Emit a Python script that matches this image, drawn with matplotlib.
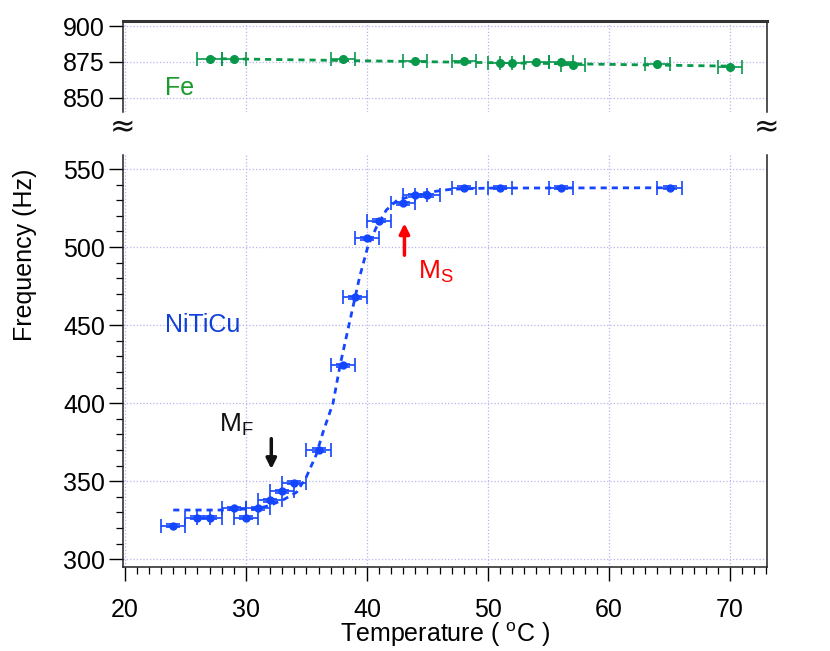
import matplotlib
matplotlib.use("Agg")
import matplotlib.pyplot as plt
from matplotlib.ticker import MultipleLocator, FixedLocator

plt.rcParams['font.family'] = ['Liberation Sans', 'DejaVu Sans']
plt.rcParams['mathtext.fontset'] = 'custom'
plt.rcParams['mathtext.rm'] = 'Liberation Sans'
plt.rcParams['mathtext.it'] = 'Liberation Sans:italic'
plt.rcParams['mathtext.bf'] = 'Liberation Sans:bold'

# NiTiCu data
niticu_T = [24, 26, 27, 29, 30, 31, 32, 33, 34, 36, 38, 39, 40, 41, 43, 44, 45, 48, 51, 56, 65]
niticu_f = [321.5, 326.5, 326.5, 332.5, 326.5, 332.5, 337.8, 343.6, 348.9, 370, 424.2, 467.8, 505.6, 516.9, 528, 533.3, 533.3, 538, 538, 538, 538]
niticu_xerr = 1.0
niticu_yerr = 1.0

# NiTiCu fit curve
fit_T = [24, 28, 31, 32, 33.2, 34.2, 35.0, 35.8, 36.4, 37.2, 37.8, 38.6, 39.4, 40.1, 40.8, 41.6, 42.5, 44.4, 46.9, 50, 65]
fit_f = [331.5, 331.5, 332.5, 334.5, 338.5, 343, 352.8, 366.7, 382, 400, 425, 453, 481, 501, 513, 523.7, 530, 534.4, 537, 537.8, 538]

# Fe data
fe_T = [27, 29, 38, 44, 48, 51, 52, 54, 56, 57, 64, 70]
fe_f = [877.1, 877.1, 877.1, 875.7, 875.9, 874.5, 874.5, 874.8, 874.8, 872.9, 873.4, 871.7]
fe_xerr = 1.0
fe_line_T = [27, 70]
fe_line_f = [877.3, 872.0]

blue = '#1446ff'
green = '#08984a'
grid_color = '#b4b4ee'

fig = plt.figure(figsize=(8.3, 6.51), dpi=100)
L, R = 123/830, 767/830
ax_top = fig.add_axes([L, 1 - 112/651, R - L, (112 - 21)/651])
ax = fig.add_axes([L, 1 - 567/651, R - L, (567 - 155)/651])

for a in (ax, ax_top):
    a.set_xlim(19.85, 73.05)
    a.xaxis.set_major_locator(MultipleLocator(10))
    a.grid(True, which='major', color=grid_color, linestyle=':', linewidth=0.9)
    a.set_axisbelow(True)
    for s in a.spines.values():
        s.set_color('#222222')
        s.set_linewidth(1.1)

# bottom axes
ax.set_ylim(295, 559)
ax.yaxis.set_major_locator(MultipleLocator(50))
ax.yaxis.set_minor_locator(MultipleLocator(10))
ax.xaxis.set_minor_locator(MultipleLocator(1))
ax.spines['top'].set_visible(False)
ax.tick_params(axis='both', which='major', direction='out', length=10, width=1.0, labelsize=18)
ax.tick_params(axis='both', which='minor', direction='out', length=5, width=0.9)
ax.tick_params(axis='y', which='both', right=False, pad=3)
ax.tick_params(axis='x', pad=12)

ax.errorbar(niticu_T, niticu_f, xerr=niticu_xerr, yerr=niticu_yerr, fmt='o', color=blue,
            markersize=5, elinewidth=1.2, capsize=5, capthick=1.2, zorder=3)
ax.plot(fit_T, fit_f, linestyle=(0, (2.2, 1.8)), color=blue, linewidth=2.0, zorder=2)

ax.set_xlabel('Temperature ( $^{\\mathrm{o}}$C )', fontsize=18, labelpad=-1)
ax.set_ylabel('Frequency (Hz)', fontsize=18)
ax.yaxis.set_label_coords(-0.134, 0.757)

ax.text(23.3, 450, 'NiTiCu', color='#1040d8', fontsize=18, va='center', ha='left')
ax.annotate('', xy=(43.1, 517), xytext=(43.1, 493),
            arrowprops=dict(arrowstyle='-|>,head_length=0.6,head_width=0.3', color='red', lw=2.5))
ax.text(44.2, 484, 'M$_\\mathrm{S}$', color='red', fontsize=19, va='center', ha='left')
ax.annotate('', xy=(32.1, 356), xytext=(32.1, 379),
            arrowprops=dict(arrowstyle='-|>,head_length=0.6,head_width=0.3', color='#111111', lw=2.5))
ax.text(27.8, 386, 'M$_\\mathrm{F}$', color='#111111', fontsize=19, va='center', ha='left')

# top axes
ax_top.set_ylim(840, 903.5)
ax_top.yaxis.set_major_locator(FixedLocator([850, 875, 900]))
ax_top.spines['bottom'].set_visible(False)
ax_top.spines['top'].set_linewidth(2.2)
ax_top.spines['top'].set_color('#333333')
ax_top.tick_params(axis='x', which='both', bottom=False, top=False, labelbottom=False)
ax_top.tick_params(axis='y', which='major', direction='out', length=10, width=1.0, labelsize=18, pad=3)

ax_top.errorbar(fe_T, fe_f, xerr=fe_xerr, fmt='o', color=green,
                markersize=5.5, elinewidth=1.2, capsize=5, capthick=1.2, zorder=3)
ax_top.plot(fe_line_T, fe_line_f, linestyle=(0, (2.2, 1.8)), color=green, linewidth=2.0, zorder=2)
ax_top.text(23.3, 857, 'Fe', color='#1c9a2c', fontsize=18, va='center', ha='left')

# break marks
for xf in (L, R):
    fig.text(xf, 1 - 128/651, '\u2248', fontsize=22, ha='center', va='center', color='#111111',
             family='DejaVu Sans')

fig.savefig('out.png', dpi=100)
